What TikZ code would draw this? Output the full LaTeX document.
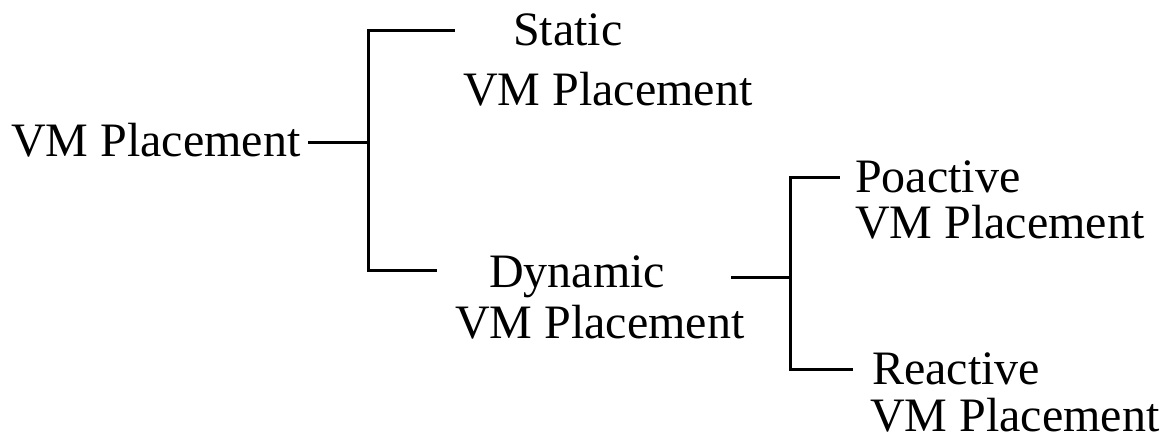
\documentclass[tikz,border=0pt]{standalone}
\usepackage{fontspec}
\setmainfont{Liberation Serif}
\begin{document}
\begin{tikzpicture}[x=1pt,y=-1pt,
  lbl/.style={anchor=base west,inner sep=0pt,font=\fontsize{48}{50}\selectfont},
  conn/.style={line width=3pt,line cap=rect}]
\useasboundingbox (0,0) rectangle (1168,437);

% labels, one node per printed line
\node[lbl] (root)  at (11,156)  {VM Placement};
\node[lbl] (stat)  at (513,45)  {Static};
\node[lbl] (statb) at (463,105) {VM Placement};
\node[lbl] (dyn)   at (489,287) {Dynamic};
\node[lbl] (dynb)  at (455,338) {VM Placement};
\node[lbl] (pro)   at (855,192) {Poactive};
\node[lbl] (prob)  at (855,238) {VM Placement};
\node[lbl] (rea)   at (872,384) {Reactive};
\node[lbl] (reab)  at (870,431) {VM Placement};

% first bracket
\coordinate (j1) at (368,142);
\coordinate (t1) at (368,30);
\coordinate (t1e) at (453,30);
\coordinate (b1) at (368,270);
\coordinate (b1e) at (435,270);
\draw[conn] ([xshift=9pt]root.east |- j1) -- (j1);
\draw[conn] (t1e) -- (t1) -- (b1) -- (b1e);

% second bracket
\coordinate (j2) at (790,277);
\coordinate (t2) at (790,177);
\coordinate (t2e) at (838,177);
\coordinate (b2) at (790,369);
\coordinate (b2e) at (851,369);
\draw[conn] ([xshift=67pt]dyn.east |- j2) -- (j2);
\draw[conn] (t2e) -- (t2) -- (b2) -- (b2e);
\end{tikzpicture}
\end{document}
